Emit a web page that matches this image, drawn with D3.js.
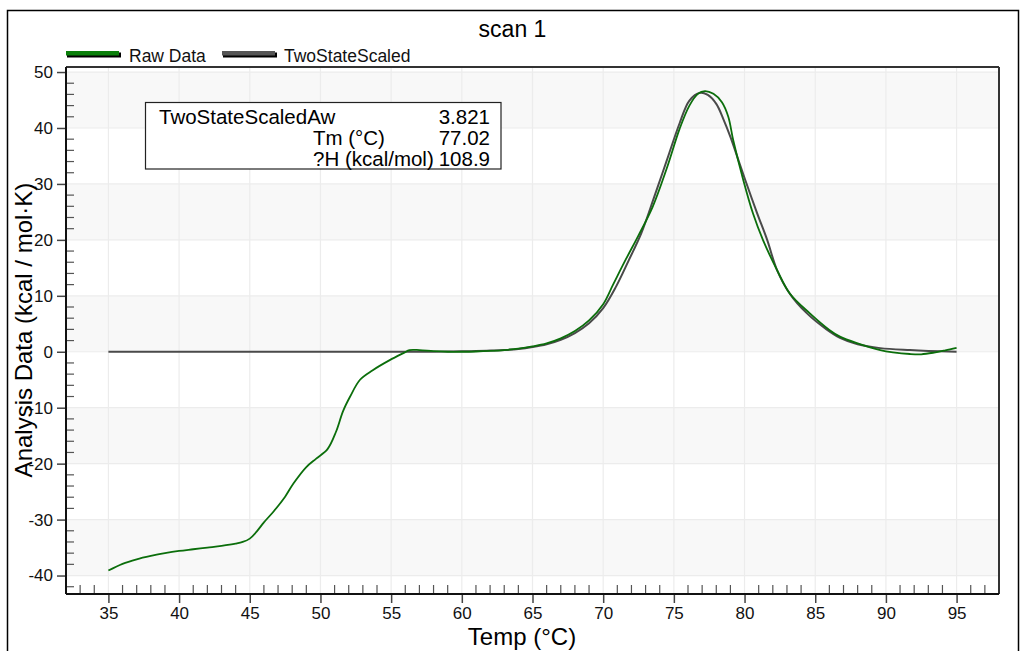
<!DOCTYPE html>
<html>
<head>
<meta charset="utf-8">
<script src="https://cdn.jsdelivr.net/npm/d3@7"></script>
<style>
  body { margin: 0; background: #fff; }
  svg { display: block; font-family: "Liberation Sans", Arial, sans-serif; }
</style>
</head>
<body>
<div id="chart"></div>
<script>
// readings
const rawTemp = [35, 36, 37, 38, 39, 40, 41, 42, 43, 44, 44.5, 45, 45.5, 46, 46.7, 47.5, 48.1, 49, 49.7, 50.5, 51.1, 51.6, 52.1, 52.8, 53.7, 54.9, 55.9, 56.3, 57, 58, 59, 60, 61, 62, 63, 64, 65, 66, 67, 68, 69, 70, 70.7, 71.6, 72.5, 73.5, 74.5, 75.4, 76.1, 76.7, 77.2, 77.8, 78.4, 78.85, 79.2, 79.9, 80.6, 81.3, 82.3, 83.2, 84.6, 86, 86.75, 88, 89.6, 90.5, 91.7, 92.5, 93.4, 94.2, 95];
const rawValue = [-39.1, -37.9, -37.1, -36.5, -36.0, -35.6, -35.3, -35.0, -34.7, -34.3, -34.0, -33.4, -32.1, -30.5, -28.5, -25.9, -23.5, -20.6, -19.1, -17.4, -14.3, -10.6, -8.0, -5.0, -3.3, -1.5, -0.2, 0.3, 0.3, 0.1, 0.0, 0.0, 0.05, 0.15, 0.3, 0.55, 0.95, 1.5, 2.4, 3.7, 5.6, 8.5, 12.0, 16.5, 20.8, 25.9, 32.8, 39.8, 44.0, 46.1, 46.6, 46.1, 44.6, 42.0, 37.8, 30.8, 24.7, 20.0, 14.6, 10.4, 6.9, 3.9, 2.7, 1.5, 0.3, -0.1, -0.4, -0.45, -0.15, 0.25, 0.7];

const fitTemp = [35, 40, 45, 50, 55, 58, 60, 61, 62, 63, 64, 65, 66, 67, 68, 69, 70, 70.9, 71.8, 72.7, 73.6, 74.5, 75.4, 76.1, 76.85, 77.4, 78, 78.5, 79, 79.6, 80.05, 80.9, 81.6, 82.3, 83.2, 84.4, 85.8, 86.75, 88, 89.6, 91.7, 93, 95];
const fitValue = [0, 0, 0, 0, 0, 0.02, 0.08, 0.13, 0.22, 0.32, 0.5, 0.85, 1.35, 2.15, 3.35, 5.1, 7.8, 11.6, 16.3, 21.2, 27.6, 34.2, 40.8, 44.9, 46.3, 45.9, 44.3, 41.6, 38.4, 34.0, 30.7, 24.7, 20.0, 14.6, 10.4, 6.9, 4.0, 2.5, 1.35, 0.65, 0.3, 0.15, 0.0];

const xMajorTicks = [35, 40, 45, 50, 55, 60, 65, 70, 75, 80, 85, 90, 95];
const yMajorTicks = [-40, -30, -20, -10, 0, 10, 20, 30, 40, 50];
const fitStats = [
  ["TwoStateScaledAw", "3.821"],
  ["Tm (\u00B0C)", "77.02"],
  ["?H (kcal/mol)", "108.9"]
];

(function () {
  const W = 1021, H = 651;
  const margin = { left: 66, top: 67, right: 22, bottom: 57 };
  const width = W - margin.left - margin.right;
  const height = H - margin.top - margin.bottom;

  const svg = d3.select('#chart').append('svg')
    .attr('width', W)
    .attr('height', H);

  // outer frame
  svg.append('rect')
    .attr('x', 7.5).attr('y', 10.5)
    .attr('width', 1011).attr('height', 700)
    .attr('fill', 'none').attr('stroke', '#000').attr('stroke-width', 1.5);

  const x = d3.scaleLinear().domain([32, 98]).range([0, width]);
  const y = d3.scaleLinear().domain([-43.3, 50.9]).range([height, 0]);

  const chart = svg.append('g')
    .attr('transform', 'translate(' + margin.left + ',' + margin.top + ')');

  // alternating bands
  for (let i = 0; i < yMajorTicks.length - 1; i++) {
    if (i % 2 !== 0) continue;
    chart.append('rect')
      .attr('x', 0).attr('width', width)
      .attr('y', y(yMajorTicks[i + 1]))
      .attr('height', y(yMajorTicks[i]) - y(yMajorTicks[i + 1]))
      .attr('fill', '#f8f8f8');
  }

  // grid
  chart.append('g').selectAll('line').data(xMajorTicks).enter().append('line')
    .attr('x1', d => x(d)).attr('x2', d => x(d))
    .attr('y1', 0).attr('y2', height)
    .attr('stroke', '#ececec').attr('stroke-width', 1.2);
  chart.append('g').selectAll('line').data(yMajorTicks).enter().append('line')
    .attr('x1', 0).attr('x2', width)
    .attr('y1', d => y(d)).attr('y2', d => y(d))
    .attr('stroke', '#ececec').attr('stroke-width', 1.2);

  // minor ticks (inside)
  let xMinor = d3.range(33, 98, 1).filter(v => v % 5 !== 0);
  let yMinor = d3.range(-42, 51, 2).filter(v => v % 10 !== 0);

  chart.append('g').selectAll('line').data(xMinor).enter().append('line')
    .attr('x1', d => x(d)).attr('x2', d => x(d))
    .attr('y1', height).attr('y2', height - 9)
    .attr('stroke', '#555').attr('stroke-width', 1.2);
  chart.append('g').selectAll('line').data(yMinor).enter().append('line')
    .attr('x1', 0).attr('x2', 8)
    .attr('y1', d => y(d)).attr('y2', d => y(d))
    .attr('stroke', '#555').attr('stroke-width', 1.2);

  // axes with outward major ticks, plain hyphen for negatives
  const fmt = d => String(d);
  const xAxis = chart.append('g')
    .attr('transform', 'translate(0,' + height + ')')
    .call(d3.axisBottom(x).tickValues(xMajorTicks).tickFormat(fmt).tickSize(9).tickSizeOuter(0).tickPadding(4));
  xAxis.select('.domain').remove();
  xAxis.selectAll('line').attr('stroke', '#444').attr('stroke-width', 1.5);
  xAxis.selectAll('text').attr('font-size', '17px').attr('fill', '#111')
    .attr('font-family', '"Liberation Sans", Arial, sans-serif');

  const yAxis = chart.append('g')
    .call(d3.axisLeft(y).tickValues(yMajorTicks).tickFormat(fmt).tickSize(9).tickSizeOuter(0).tickPadding(4));
  yAxis.select('.domain').remove();
  yAxis.selectAll('line').attr('stroke', '#444').attr('stroke-width', 1.5);
  yAxis.selectAll('text').attr('font-size', '17px').attr('fill', '#111')
    .attr('font-family', '"Liberation Sans", Arial, sans-serif');

  // plot frame
  chart.append('line').attr('x1', 0).attr('x2', width).attr('y1', 0).attr('y2', 0)
    .attr('stroke', '#333').attr('stroke-width', 2);
  chart.append('line').attr('x1', width).attr('x2', width).attr('y1', 0).attr('y2', height)
    .attr('stroke', '#333').attr('stroke-width', 2);
  chart.append('line').attr('x1', 0).attr('x2', width).attr('y1', height).attr('y2', height)
    .attr('stroke', '#111').attr('stroke-width', 2);
  chart.append('line').attr('x1', 0).attr('x2', 0).attr('y1', 0).attr('y2', height)
    .attr('stroke', '#111').attr('stroke-width', 2);

  // curves
  const rawData = rawTemp.map((t, i) => ({ t: t, v: rawValue[i] }));
  const fitData = fitTemp.map((t, i) => ({ t: t, v: fitValue[i] }));
  const line = d3.line()
    .x(d => x(d.t))
    .y(d => y(d.v))
    .curve(d3.curveCatmullRom.alpha(0.5));

  chart.append('path').datum(fitData)
    .attr('d', line).attr('fill', 'none')
    .attr('stroke', '#4a4a4a').attr('stroke-width', 2);
  chart.append('path').datum(rawData)
    .attr('d', line).attr('fill', 'none')
    .attr('stroke', '#0b6e0b').attr('stroke-width', 1.8);

  // stats box
  const box = svg.append('g');
  box.append('rect')
    .attr('x', 145.5).attr('y', 102.5)
    .attr('width', 355.5).attr('height', 66.5)
    .attr('fill', '#fff').attr('stroke', '#222').attr('stroke-width', 1.2);
  const labelX = [159, 313, 313];
  const rowY = [123.5, 145, 166];
  fitStats.forEach((row, i) => {
    box.append('text')
      .attr('x', labelX[i]).attr('y', rowY[i])
      .attr('font-size', '20.5px').attr('fill', '#000')
      .text(row[0]);
    box.append('text')
      .attr('x', 490).attr('y', rowY[i])
      .attr('text-anchor', 'end')
      .attr('font-size', '20.5px').attr('fill', '#000')
      .text(row[1]);
  });

  // legend
  const legend = svg.append('g');
  const legendItems = [
    { name: 'Raw Data', color: '#0a7f0a', x: 66, tx: 129 },
    { name: 'TwoStateScaled', color: '#555555', x: 222, tx: 284 }
  ];
  legendItems.forEach(item => {
    legend.append('rect')
      .attr('x', item.x + 1).attr('y', 52.5)
      .attr('width', 54).attr('height', 5)
      .attr('fill', '#000');
    legend.append('rect')
      .attr('x', item.x).attr('y', 51)
      .attr('width', 53).attr('height', 4.5)
      .attr('fill', item.color);
    legend.append('text')
      .attr('x', item.tx).attr('y', 61.5)
      .attr('font-size', '17.5px').attr('fill', '#111')
      .text(item.name);
  });

  // titles
  svg.append('text')
    .attr('x', 512.5).attr('y', 37)
    .attr('text-anchor', 'middle')
    .attr('font-size', '23px').attr('fill', '#000')
    .text('scan 1');

  svg.append('text')
    .attr('x', 522).attr('y', 645)
    .attr('text-anchor', 'middle')
    .attr('font-size', '24px').attr('fill', '#000')
    .text('Temp (\u00B0C)');

  svg.append('text')
    .attr('transform', 'translate(32,330) rotate(-90)')
    .attr('text-anchor', 'middle')
    .attr('font-size', '24px').attr('fill', '#000')
    .text('Analysis Data (kcal / mol\u00B7K)');
})();
</script>
</body>
</html>
